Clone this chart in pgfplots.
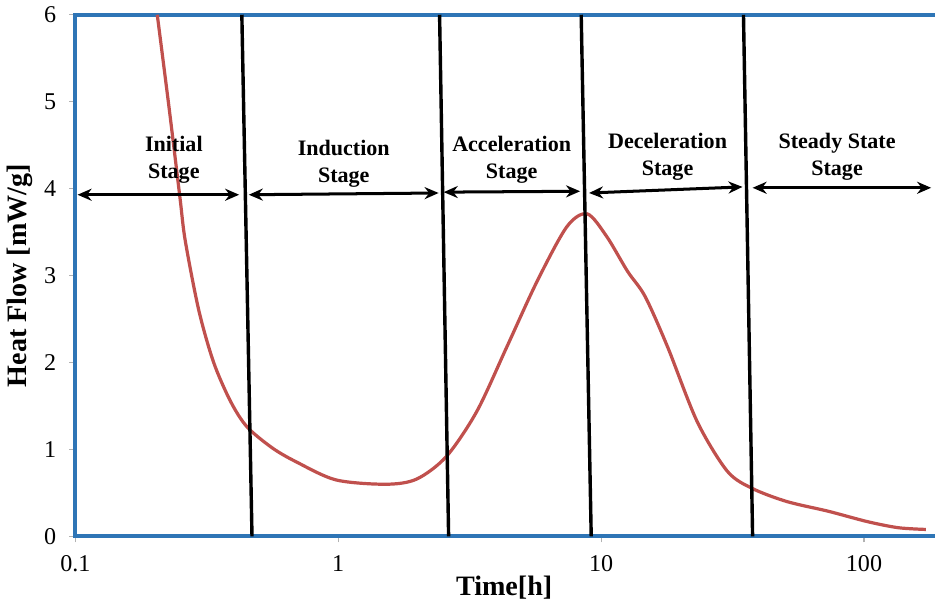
\documentclass[border=0pt]{standalone}
\usepackage{pgfplots}
\pgfplotsset{compat=1.18}
\usepackage{fontspec}
\setmainfont{Liberation Serif}
\usetikzlibrary{arrows.meta}

\definecolor{frameblue}{RGB}{46,117,182}
\definecolor{curvered}{RGB}{192,80,77}

\begin{document}
\begin{tikzpicture}
\begin{axis}[
  scale only axis,
  width=427.5pt, height=260pt,
  xmode=log,
  xmin=0.1, xmax=183,
  ymin=0, ymax=6,
  axis line style={draw=none},
  xtick={0.1,1,10,100},
  xticklabels={0.1,1,10,100},
  xminorticks=false,
  minor x tick style={draw=none},
  xtick pos=bottom,
  ytick pos=left,
  ytick={0,1,2,3,4,5,6},
  tick align=outside,
  major tick length=3pt,
  tick style={draw=gray!60, line width=0.6pt},
  /pgf/number format/assume math mode=true,
  tick label style={font=\fontsize{12}{14}\selectfont},
  xticklabel style={yshift=-3pt},
  yticklabel style={xshift=-3pt},
  xlabel={\textbf{Time[h]}},
  ylabel={\textbf{Heat Flow [mW/g]}},
  label style={font=\fontsize{14}{16}\selectfont},
  xlabel style={yshift=5pt},
  ylabel style={yshift=-1pt},
  clip=false,
]
% frame: left, bottom and top edges only
\draw[frameblue, line width=2pt, line cap=rect]
  (rel axis cs:1,1) -- (rel axis cs:0,1) -- (rel axis cs:0,0) -- (rel axis cs:1,0);
% heat flow curve
\addplot[curvered, line width=1.6pt, smooth, tension=0.5] coordinates {
  (0.205,6.00) (0.228,4.90) (0.250,3.90) (0.262,3.40) (0.295,2.60)
  (0.336,2.00) (0.390,1.55) (0.450,1.26) (0.560,1.02) (0.690,0.86)
  (0.980,0.65) (1.52,0.60) (1.99,0.66) (2.58,0.92) (3.37,1.44)
  (4.38,2.18) (5.70,2.93) (7.40,3.56) (8.85,3.71) (10.5,3.45)
  (12.6,3.05) (14.7,2.76) (17.9,2.18) (23.2,1.32) (30.2,0.75)
  (37.7,0.55) (51,0.40) (73,0.29) (103,0.17) (135,0.10) (172,0.08)
};
% stage boundaries
\addplot[black, line width=1.7pt] coordinates {(0.43,6) (0.47,0)};
\addplot[black, line width=1.7pt] coordinates {(2.43,6) (2.63,0)};
\addplot[black, line width=1.7pt] coordinates {(8.40,6) (9.17,0)};
\addplot[black, line width=1.7pt] coordinates {(34.8,6) (37.7,0)};
% stage extent arrows
\pgfplotsset{stagearrow/.style={black, line width=1.5pt,
  {Stealth[length=7pt,width=6pt]}-{Stealth[length=7pt,width=6pt]}}}
\addplot[stagearrow] coordinates {(0.102,3.93) (0.42,3.93)};
\addplot[stagearrow] coordinates {(0.457,3.93) (2.41,3.95)};
\addplot[stagearrow] coordinates {(2.52,3.96) (8.32,3.97)};
\addplot[stagearrow] coordinates {(9.0,3.95) (34.5,4.02)};
\addplot[stagearrow] coordinates {(37.7,4.01) (180,4.01)};
% stage names
\tikzset{stagename/.style={align=center, font=\bfseries\fontsize{11}{13.5}\selectfont}}
\node[stagename] at (axis cs:0.237,4.33) {Initial\\Stage};
\node[stagename] at (axis cs:1.05,4.29) {Induction\\Stage};
\node[stagename] at (axis cs:4.57,4.33) {Acceleration\\Stage};
\node[stagename] at (axis cs:17.9,4.37) {Deceleration\\Stage};
\node[stagename] at (axis cs:79,4.37) {Steady State\\Stage};
\end{axis}
\end{tikzpicture}
\end{document}
